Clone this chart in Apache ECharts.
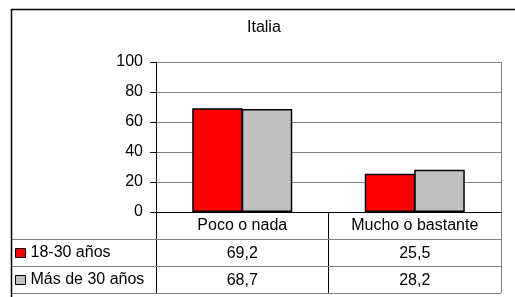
<!DOCTYPE html>
<html lang="es">
<head>
<meta charset="UTF-8">
<title>Italia</title>
<style>
html, body { margin: 0; padding: 0; background: #fff; }
#main { width: 515px; height: 297px; }
</style>
</head>
<body>
<div id="main"></div>
<script src="https://cdn.jsdelivr.net/npm/echarts@6/dist/echarts.min.js"></script>
<script>
var categories = ['Poco o nada', 'Mucho o bastante'];
var seriesNames = ['18-30 años', 'Más de 30 años'];
var young = [69.2, 25.5];
var older = [68.7, 28.2];
var yTicks = [0, 20, 40, 60, 80, 100];
var colors = ['#ff0000', '#c0c0c0'];

var font = '"Liberation Sans", Arial, sans-serif';
var fs = 16;
var rowH = 27;

var chart = echarts.init(document.getElementById('main'));

function barSeries(name, data, color) {
  return {
    name: name,
    type: 'bar',
    data: data,
    barGap: '-2%',
    barCategoryGap: '42%',
    itemStyle: { color: color, borderColor: '#000', borderWidth: 1.5 },
    emphasis: { disabled: true }
  };
}

chart.setOption({
  animation: false,
  title: {
    text: 'Italia',
    left: 247, top: 20, padding: 0,
    textStyle: { fontFamily: font, fontSize: fs, fontWeight: 'normal', color: '#000' }
  },
  legend: {
    orient: 'vertical',
    left: 15, top: 245, padding: 0,
    itemWidth: 10, itemHeight: 9, itemGap: 11,
    icon: 'rect',
    selectedMode: false,
    data: seriesNames,
    textStyle: { fontFamily: font, fontSize: fs, color: '#000', lineHeight: 16 },
    itemStyle: { borderColor: '#000', borderWidth: 1 }
  },
  grid: { left: 156, top: 62, right: 14, bottom: 85, containLabel: false },
  xAxis: {
    type: 'category',
    data: categories,
    axisLine: { lineStyle: { color: '#000', width: 1 } },
    axisTick: { show: true, length: rowH * 3, alignWithLabel: false, lineStyle: { color: '#000' } },
    axisLabel: { margin: 6, fontFamily: font, fontSize: fs, color: '#000', lineHeight: 16 }
  },
  yAxis: {
    type: 'value',
    min: yTicks[0],
    max: yTicks[yTicks.length - 1],
    interval: yTicks[1] - yTicks[0],
    axisLine: { show: true, lineStyle: { color: '#000', width: 1 } },
    axisTick: { show: true, length: 6, lineStyle: { color: '#000' } },
    axisLabel: { margin: 13, fontFamily: font, fontSize: fs, color: '#000' },
    splitLine: { lineStyle: { color: '#808080', width: 1 } }
  },
  series: [
    barSeries(seriesNames[0], young, colors[0]),
    barSeries(seriesNames[1], older, colors[1])
  ]
});

// data table under the axis, placed with the chart's own scales
var y0 = Math.round(chart.convertToPixel({ yAxisIndex: 0 }, 0));
var yTop = Math.round(chart.convertToPixel({ yAxisIndex: 0 }, yTicks[yTicks.length - 1]));
var xRight = 501;
var rows = [young, older];
var graphics = [];

for (var r = 1; r <= 3; r++) {
  graphics.push({
    type: 'line', z: 10,
    shape: { x1: 11, y1: y0 + r * rowH + 0.5, x2: xRight, y2: y0 + r * rowH + 0.5 },
    style: { stroke: '#808080', lineWidth: 1 }
  });
}
graphics.push({
  type: 'line', z: 11,
  shape: { x1: xRight + 0.5, y1: yTop, x2: xRight + 0.5, y2: y0 + 3 * rowH },
  style: { stroke: '#808080', lineWidth: 1 }
});

rows.forEach(function (vals, i) {
  vals.forEach(function (v, j) {
    var cx = chart.convertToPixel({ xAxisIndex: 0 }, categories[j]);
    graphics.push({
      type: 'text', z: 10,
      x: cx, y: y0 + (i + 1) * rowH + rowH / 2 + 1,
      style: {
        text: v.toFixed(1).replace('.', ','),
        fontFamily: font, fontSize: fs, fill: '#000',
        align: 'center', verticalAlign: 'middle'
      }
    });
  });
});

// outer frame
graphics.push({
  type: 'rect', z: 12,
  shape: { x: 11.5, y: 9.5, width: 520, height: 300 },
  style: { fill: null, stroke: '#000', lineWidth: 1.5 }
});

chart.setOption({ graphic: graphics });
</script>
</body>
</html>
